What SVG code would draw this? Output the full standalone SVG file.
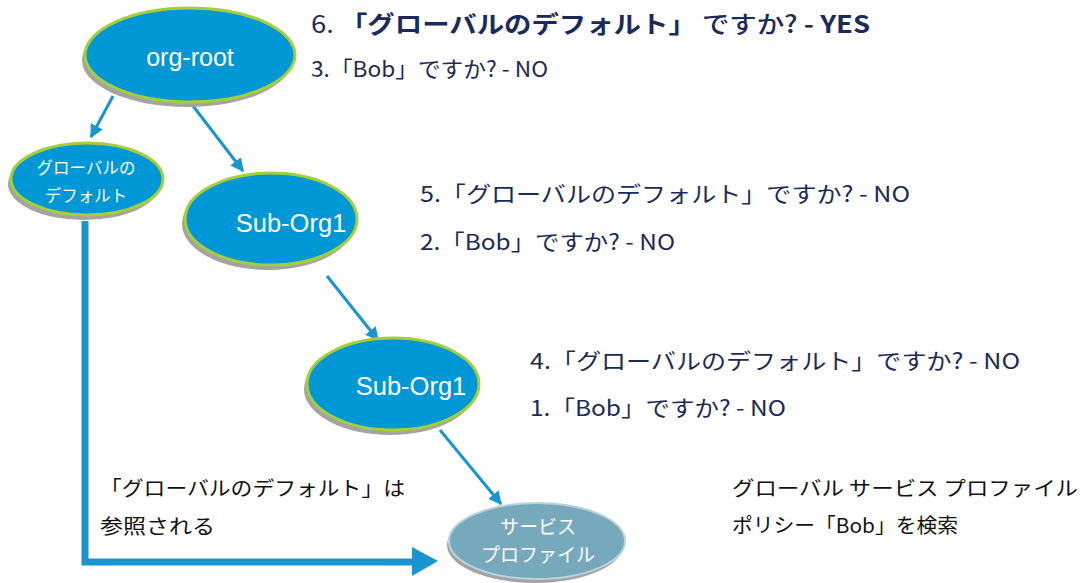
<svg xmlns="http://www.w3.org/2000/svg" width="1084" height="583" viewBox="0 0 1084 583">
<defs>
<marker id="ah" viewBox="0 0 10 10" refX="9" refY="5" markerWidth="4.5" markerHeight="4.5" orient="auto" markerUnits="strokeWidth">
<path d="M0,0 L10,5 L0,10 z" fill="#1A95D0"/>
</marker>
<filter id="sh" x="-20%" y="-20%" width="140%" height="150%">
<feGaussianBlur stdDeviation="0.6"/>
</filter>
</defs>
<style>
.node{fill:#0097D6;stroke:#A6CE39;stroke-width:3}
.shadow{fill:#A3A3A3}
.svc{fill:#76A9BC;stroke:#B9D3DE;stroke-width:2}
.nt{font-family:"Liberation Sans","Noto Sans CJK JP",sans-serif;fill:#fff;text-anchor:middle}
.jt{font-family:"Noto Sans CJK JP","Liberation Sans",sans-serif;fill:#fff;text-anchor:middle}
.q{font-family:"Noto Sans CJK JP","Liberation Sans",sans-serif;fill:#1B2A5C;font-size:22px}
.b{font-weight:bold}
.lab{font-family:"Noto Sans CJK JP","Liberation Sans",sans-serif;fill:#111;font-size:20px}
.con{stroke:#1A95D0;stroke-width:3;fill:none}
</style>
<rect width="1084" height="583" fill="#fff"/>

<g id="connectors">
<line class="con" x1="113" y1="96" x2="91" y2="137" marker-end="url(#ah)"/>
<line class="con" x1="190" y1="102" x2="243" y2="171" marker-end="url(#ah)"/>
<line class="con" x1="327" y1="276" x2="378" y2="340" marker-end="url(#ah)"/>
<line class="con" x1="440" y1="430" x2="501" y2="504" marker-end="url(#ah)"/>
<path d="M85,221 L85,562 L414,562" stroke="#1A95D0" stroke-width="7" fill="none"/>
<polygon points="412,547 438,561 412,576" fill="#1A95D0"/>
</g>

<g id="org-root">
<ellipse class="shadow" cx="187" cy="60" rx="105" ry="47" filter="url(#sh)"/>
<ellipse class="node" cx="190" cy="55" rx="105" ry="47"/>
<text class="nt" x="190" y="66" font-size="25">org-root</text>
</g>

<g id="global-default">
<ellipse class="shadow" cx="84" cy="184" rx="76" ry="36" filter="url(#sh)"/>
<ellipse class="node" cx="87" cy="179" rx="76" ry="36"/>
<text class="jt" x="86" y="174" font-size="16.5">グローバルの</text>
<text class="jt" x="86" y="202" font-size="16.5">デフォルト</text>
</g>

<g id="sub-org1-a">
<ellipse class="shadow" cx="268" cy="224" rx="86" ry="46" filter="url(#sh)"/>
<ellipse class="node" cx="271" cy="219" rx="86" ry="46"/>
<text class="nt" x="291" y="232" font-size="25.5">Sub-Org1</text>
</g>

<g id="sub-org1-b">
<ellipse class="shadow" cx="390" cy="389" rx="86" ry="46" filter="url(#sh)"/>
<ellipse class="node" cx="393" cy="384" rx="86" ry="46"/>
<text class="nt" x="411" y="395" font-size="25.5">Sub-Org1</text>
</g>

<g id="service-profile">
<ellipse class="shadow" cx="535" cy="545" rx="88" ry="38" filter="url(#sh)"/>
<ellipse class="svc" cx="537" cy="541" rx="88" ry="38"/>
<text class="jt" x="538" y="534" font-size="19">サービス</text>
<text class="jt" x="538" y="562" font-size="19">プロファイル</text>
</g>

<g id="labels">
<text class="q" x="311" y="33" textLength="559" lengthAdjust="spacingAndGlyphs" style="font-size:24px">6. <tspan class="b">「グローバルのデフォルト」</tspan> <tspan font-weight="500">ですか?</tspan><tspan class="b"> - YES</tspan></text>
<text class="q" x="311" y="77" textLength="237" lengthAdjust="spacingAndGlyphs">3.「Bob」ですか?  - NO</text>
<text class="q" x="420" y="202" textLength="490" lengthAdjust="spacingAndGlyphs">5.「グローバルのデフォルト」ですか? - NO</text>
<text class="q" x="420" y="250" textLength="255" lengthAdjust="spacingAndGlyphs">2.「Bob」ですか?  - NO</text>
<text class="q" x="530" y="369" textLength="490" lengthAdjust="spacingAndGlyphs">4.「グローバルのデフォルト」ですか? - NO</text>
<text class="q" x="530" y="416" textLength="256" lengthAdjust="spacingAndGlyphs">1.「Bob」ですか?  - NO</text>
<text class="lab" x="100" y="496" textLength="305" lengthAdjust="spacingAndGlyphs">「グローバルのデフォルト」は</text>
<text class="lab" x="100" y="534" textLength="115" lengthAdjust="spacingAndGlyphs">参照される</text>
<text class="lab" x="732" y="496" textLength="346" lengthAdjust="spacingAndGlyphs">グローバル サービス プロファイル</text>
<text class="lab" x="732" y="533" textLength="226" lengthAdjust="spacingAndGlyphs">ポリシー「Bob」を検索</text>
</g>
</svg>
